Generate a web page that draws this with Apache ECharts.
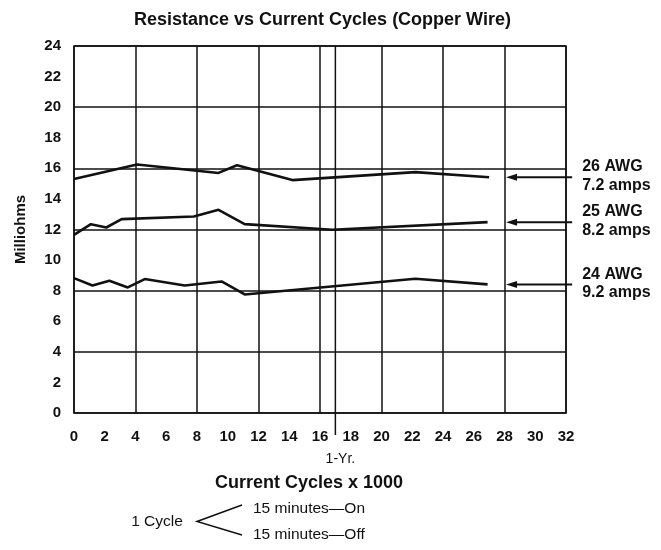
<!DOCTYPE html>
<html>
<head>
<meta charset="utf-8">
<script src="https://cdn.jsdelivr.net/npm/echarts@6/dist/echarts.min.js"></script>
<style>
  html, body { margin: 0; padding: 0; background: #fff; }
  #chart { width: 661px; height: 550px; }
</style>
</head>
<body>
<div id="chart"></div>
<script>
// readings: [cycles x 1000, milliohms]
var wire26 = [[0, 15.3], [4.1, 16.25], [9.4, 15.7], [10.6, 16.2], [14.2, 15.23], [22.2, 15.75], [27.0, 15.42]];
var wire25 = [[0, 11.65], [1.1, 12.35], [2.1, 12.13], [3.1, 12.68], [7.8, 12.85], [9.4, 13.29], [11.1, 12.35], [16.8, 11.98], [26.9, 12.48]];
var wire24 = [[0, 8.82], [1.2, 8.34], [2.3, 8.65], [3.5, 8.21], [4.6, 8.76], [7.2, 8.34], [9.6, 8.6], [11.1, 7.75], [22.2, 8.78], [26.9, 8.41]];
var wireLabels = [["26 AWG", "7.2 amps"], ["25 AWG", "8.2 amps"], ["24 AWG", "9.2 amps"]];
var oneYear = 17;          // 1-Yr marker on the x axis
var arrowFrom = 32.4;      // arrows run from beyond the frame ...
var arrowTo = 28.1;        // ... back to this x
var cycleText = ["1 Cycle", "15 minutes\u2014On", "15 minutes\u2014Off"];

var font = "'Liberation Sans', Arial, Helvetica, sans-serif";
var ink = "#111";

let myChart = echarts.init(document.getElementById("chart"));

let lineStyle = { color: ink, width: 2.6 };
function wireSeries(data) {
    return {
        type: "line",
        data: data,
        xAxisIndex: 0,
        yAxisIndex: 0,
        symbol: "none",
        lineStyle: lineStyle,
        animation: false
    };
}

let option = {
    animation: false,
    title: {
        text: "Resistance vs Current Cycles (Copper Wire)",
        left: 129,
        top: 6,
        textStyle: { fontFamily: font, fontSize: 18, fontWeight: "bold", color: ink }
    },
    grid: {
        left: 74, top: 46, width: 492, height: 367,
        show: true, borderColor: ink, borderWidth: 1.5,
        containLabel: false
    },
    xAxis: [
        {
            type: "value", min: 0, max: 32, interval: 2,
            axisLine: { show: false }, axisTick: { show: false },
            splitLine: { show: false },
            axisLabel: { fontFamily: font, fontSize: 15, fontWeight: "bold", color: ink, margin: 16 }
        },
        {
            // gridlines every 4
            type: "value", min: 0, max: 32, interval: 4,
            axisLine: { show: false }, axisTick: { show: false }, axisLabel: { show: false },
            splitLine: { show: true, lineStyle: { color: ink, width: 1.5 } }
        }
    ],
    yAxis: [
        {
            type: "value", min: 0, max: 24, interval: 2,
            name: "Milliohms", nameLocation: "middle", nameGap: 46, nameRotate: 90,
            nameTextStyle: { fontFamily: font, fontSize: 15, fontWeight: "bold", color: ink },
            axisLine: { show: false }, axisTick: { show: false },
            splitLine: { show: false },
            axisLabel: { fontFamily: font, fontSize: 15, fontWeight: "bold", color: ink, margin: 13 }
        },
        {
            type: "value", min: 0, max: 24, interval: 4, position: "left",
            axisLine: { show: false }, axisTick: { show: false }, axisLabel: { show: false },
            splitLine: { show: true, lineStyle: { color: ink, width: 1.5 } }
        }
    ],
    series: [wireSeries(wire26), wireSeries(wire25), wireSeries(wire24)]
};
myChart.setOption(option);

// annotations placed through the chart's own scales
let px = function (x, y) { return myChart.convertToPixel({ seriesIndex: 0 }, [x, y]); };
let graphic = [];

// 1-Yr marker, runs past the axis
let yrTop = px(oneYear, 24), yrBot = px(oneYear, 0);
graphic.push({
    type: "line", z: 10,
    shape: { x1: yrTop[0], y1: yrTop[1], x2: yrBot[0], y2: yrBot[1] + 22 },
    style: { stroke: ink, lineWidth: 1.5 }
});
graphic.push({
    type: "text", z: 10, x: yrBot[0] + 5, y: yrBot[1] + 46,
    style: { text: "1-Yr.", font: "14px " + font, fill: ink, align: "center", verticalAlign: "middle" }
});

// arrows pointing at the end of each curve
[wire26, wire25, wire24].forEach(function (d, i) {
    let v = d[d.length - 1][1];
    let a = px(arrowFrom, v), b = px(arrowTo, v);
    graphic.push({
        type: "line", z: 10,
        shape: { x1: a[0], y1: a[1], x2: b[0] + 8, y2: b[1] },
        style: { stroke: ink, lineWidth: 2 }
    });
    graphic.push({
        type: "polygon", z: 10,
        shape: { points: [[b[0], b[1]], [b[0] + 11, b[1] - 3.5], [b[0] + 11, b[1] + 3.5]] },
        style: { fill: ink }
    });
    graphic.push({
        type: "text", z: 10, x: a[0] + 10, y: a[1] - 1,
        style: {
            text: wireLabels[i].join("\n"), font: "bold 16px " + font, fill: ink,
            lineHeight: 18.5, align: "left", verticalAlign: "middle"
        }
    });
});

// x axis title and cycle legend
graphic.push({
    type: "text", x: 309, y: 483,
    style: { text: "Current Cycles x 1000", font: "bold 18px " + font, fill: ink, align: "center", verticalAlign: "middle" }
});
graphic.push({
    type: "text", x: 157, y: 522,
    style: { text: cycleText[0], font: "15.5px " + font, fill: ink, align: "center", verticalAlign: "middle" }
});
graphic.push({
    type: "polyline",
    shape: { points: [[242, 505], [197, 521.5], [242, 535]] },
    style: { stroke: ink, lineWidth: 1.5, fill: null }
});
graphic.push({
    type: "text", x: 253, y: 509,
    style: { text: cycleText[1], font: "15.5px " + font, fill: ink, align: "left", verticalAlign: "middle" }
});
graphic.push({
    type: "text", x: 253, y: 535,
    style: { text: cycleText[2], font: "15.5px " + font, fill: ink, align: "left", verticalAlign: "middle" }
});

myChart.setOption({ graphic: graphic });
</script>
</body>
</html>
